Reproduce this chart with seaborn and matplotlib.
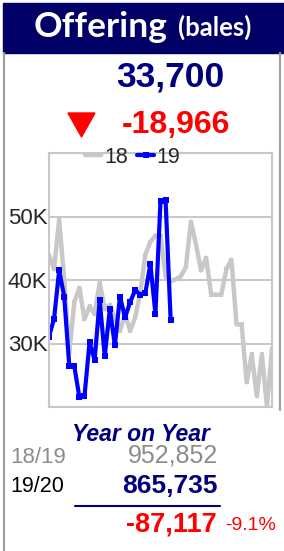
import matplotlib
matplotlib.use('Agg')
import matplotlib.pyplot as plt
import matplotlib.patches as patches
import matplotlib.lines as mlines
import seaborn as sns
import pandas as pd

# weekly offering, season 18/19 (full) and 19/20 (to date)
weeks = list(range(1, 46))
off_18 = [44000, 41700, 49500, 40100, 28500, 36500, 38800, 33800, 35900, 34600,
          39600, 35400, 36100, 34000, 32000, 34600, 32000, 34100, 38000, 44000,
          46000, 47000, 47000, 40500, 39800, 40100, 40600, 42000, 49200, 45600,
          41500, 43500, 37700, 37700, 37700, 41700, 43200, 33000, 33000, 23900,
          28300, 21700, 28300, 20100, 29200]
off_19 = [31100, 33900, 41500, 37400, 26500, 26400, 21500, 21700, 30200, 27400,
          36800, 28000, 35400, 29700, 37400, 34100, 36500, 38400, 37700, 37900,
          42500, 34700, 52500, 52666, 33700]
y_ticks = [20000, 30000, 40000, 50000, 60000]
y_tick_labels = ['', '30K', '40K', '50K', '']
season_labels = ['18', '19']

title = 'Offering'
unit = '(bales)'
latest = '33,700'
change = '-18,966'
ytd_labels = ['18/19', '19/20']
ytd_values = ['952,852', '865,735']
ytd_diff = '-87,117'
ytd_pct = '-9.1%'

NAVY = '#000066'
DARK_BLUE = '#00007f'
GRAY = '#c8c8c8'
BLUE = '#0000ff'
RED = '#ff0000'

W, H = 284, 551
fx = lambda px: px / W
fy = lambda py: 1 - py / H

sns.set_style('white')
plt.rcParams['font.family'] = ['Liberation Sans', 'DejaVu Sans']

fig = plt.figure(figsize=(W / 100, H / 100), dpi=100)

# header band
fig.patches.append(patches.Rectangle((fx(3), fy(53)), fx(281), 50 / H,
                                     transform=fig.transFigure, color=NAVY, zorder=0))
fig.text(fx(34), fy(37), title, color='white', fontsize=25.5, fontweight='bold',
         family='Lato', va='baseline', ha='left')
fig.text(fx(251), fy(36), unit, color='white', fontsize=18.5, fontweight='bold',
         family='Lato', va='baseline', ha='right')

# card frame
fig.add_artist(mlines.Line2D([fx(4), fx(4)], [fy(53), 0], transform=fig.transFigure,
                             color='#a0a0a0', lw=1.6))
fig.add_artist(mlines.Line2D([fx(280), fx(280)], [fy(53), fy(410)], transform=fig.transFigure,
                             color='#a0a0a0', lw=1.6))

# latest week
fig.text(fx(170), fy(86), latest, color=DARK_BLUE, fontsize=25.5, fontweight='bold',
         ha='center', va='baseline')
fig.patches.append(patches.Polygon([(fx(68), fy(113)), (fx(95), fy(113)), (fx(81.5), fy(137))],
                                   closed=True, transform=fig.transFigure, color=RED))
fig.text(fx(176), fy(133), change, color=RED, fontsize=23, fontweight='bold',
         ha='center', va='baseline')

# chart
ax = fig.add_axes([fx(49), fy(407), 223 / W, 254 / H])
df18 = pd.DataFrame({'week': weeks, 'bales': off_18})
df19 = pd.DataFrame({'week': weeks[:len(off_19)], 'bales': off_19})
sns.lineplot(data=df18, x='week', y='bales', ax=ax, color=GRAY, lw=3.2,
             marker='s', markersize=3, markeredgewidth=0, label=season_labels[0])
sns.lineplot(data=df19, x='week', y='bales', ax=ax, color=BLUE, lw=3.0,
             marker='s', markersize=4.2, markeredgewidth=0, label=season_labels[1])
ax.set_xlim(weeks[0], weeks[-1])
ax.set_ylim(y_ticks[0], y_ticks[-1])
ax.set_yticks(y_ticks)
ax.set_yticklabels(y_tick_labels)
ax.set_xticks([])
ax.set_xlabel('')
ax.set_ylabel('')
ax.grid(axis='y', color=GRAY, lw=1.5)
for s in ax.spines.values():
    s.set_color(GRAY)
    s.set_linewidth(1.5)
ax.tick_params(axis='y', length=0, pad=1, labelsize=16)
ax.legend(loc='upper center', bbox_to_anchor=(0.375, 1.025), ncol=2, frameon=False,
          fontsize=15.5, handlelength=0.75, handletextpad=0.15, columnspacing=0.45,
          borderaxespad=0, borderpad=0)

# year on year block
fig.text(fx(141), fy(441), 'Year on Year', color=DARK_BLUE, fontsize=16.5,
         fontweight='bold', style='italic', ha='center', va='baseline')
fig.text(fx(10), fy(463), ytd_labels[0], color='#8c8c8c', fontsize=16, ha='left', va='baseline')
fig.text(fx(218), fy(463), ytd_values[0], color='#8c8c8c', fontsize=18, ha='right', va='baseline')
fig.text(fx(10), fy(492), ytd_labels[1], color='black', fontsize=15.5, ha='left', va='baseline')
fig.text(fx(218), fy(493), ytd_values[1], color=DARK_BLUE, fontsize=19, fontweight='bold',
         ha='right', va='baseline')
fig.add_artist(mlines.Line2D([fx(75), fx(220)], [fy(505.7), fy(505.7)], transform=fig.transFigure,
                             color=DARK_BLUE, lw=1.5))
fig.text(fx(217), fy(532), ytd_diff, color=RED, fontsize=19.5, fontweight='bold',
         ha='right', va='baseline')
fig.text(fx(225), fy(530), ytd_pct, color=RED, fontsize=14, ha='left', va='baseline')

fig.savefig('out.png', dpi=100)
